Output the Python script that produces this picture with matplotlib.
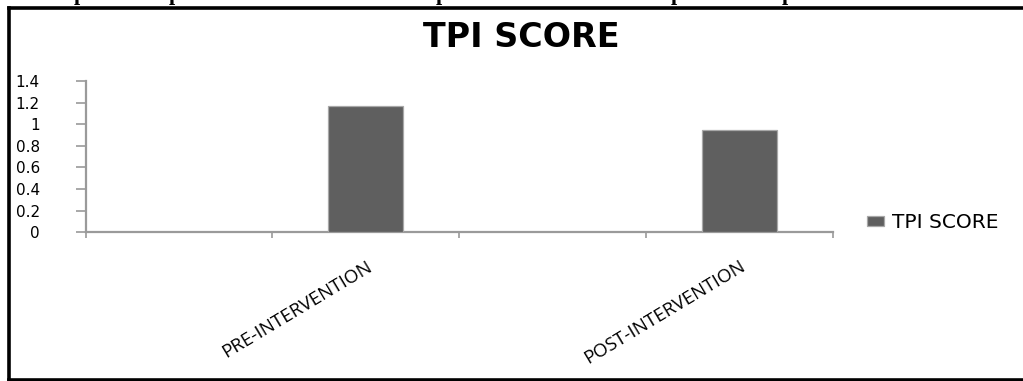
import matplotlib.pyplot as plt
import numpy as np
from matplotlib.lines import Line2D

plt.rcParams["font.family"] = "DejaVu Sans"

# Category slots on the x axis; empty slots carry no bar.
categories = ["", "PRE-INTERVENTION", "", "POST-INTERVENTION"]
tpi_score = [np.nan, 1.17, np.nan, 0.95]
series_name = "TPI SCORE"
y_ticks = [0, 0.2, 0.4, 0.6, 0.8, 1.0, 1.2, 1.4]

# glyphs of the caption line that sits above the frame (only the descenders show)
caption_marks_px = [78, 173, 440, 675, 786]

W, H = 1023, 381
AXIS_GREY = "#9a9a9a"
BAR_GREY = "#5f5f5f"


def main() -> None:
    fig = plt.figure(figsize=(W / 100, H / 100), dpi=100)
    fig.patch.set_facecolor("white")

    left, right = 85.7 / W, 832.7 / W
    bottom, top = 1 - 232.3 / H, 1 - 81.0 / H
    ax = fig.add_axes([left, bottom, right - left, top - bottom])

    x = np.arange(len(categories))
    bars = ax.bar(
        x,
        tpi_score,
        width=0.4,
        color=BAR_GREY,
        edgecolor="#a8a8a8",
        linewidth=0.9,
        label=series_name,
        zorder=3,
    )

    ax.set_xlim(-0.5, len(categories) - 0.5)
    ax.set_ylim(0, 1.4)

    # boundary ticks between slots, labels centred on the slots
    ax.set_xticks(np.arange(-0.5, len(categories)), [""] * (len(categories) + 1))
    ax.set_xticks(x, categories, minor=True)
    ax.tick_params(axis="x", which="major", length=4, width=1.2, color=AXIS_GREY, direction="out")
    ax.tick_params(axis="x", which="minor", length=0, pad=18)
    for lbl in ax.get_xticklabels(minor=True):
        lbl.set_rotation(31)
        lbl.set_ha("right")
        lbl.set_va("top")
        lbl.set_rotation_mode("anchor")
        lbl.set_family("Open Sans")
        lbl.set_fontsize(13.5)

    ax.set_yticks(y_ticks, [f"{v:g}" for v in y_ticks])
    ax.tick_params(axis="y", length=7, width=1.2, color=AXIS_GREY, direction="out",
                   labelsize=11, pad=26)

    for side in ("top", "right"):
        ax.spines[side].set_visible(False)
    for side in ("left", "bottom"):
        ax.spines[side].set_color(AXIS_GREY)
        ax.spines[side].set_linewidth(1.6)

    fig.text(521.5 / W, 1 - 47 / H, "TPI SCORE", ha="center", va="baseline",
             fontsize=24, fontweight="bold")

    fig.legend(
        handles=[bars],
        labels=[series_name],
        loc="center left",
        bbox_to_anchor=(857 / W, 1 - 222.5 / H),
        frameon=False,
        fontsize=14.5,
        handlelength=0.85,
        handleheight=0.4,
        handletextpad=0.4,
        borderpad=0,
    )

    # black frame around the chart (open on the right)
    lw = 2.6
    fig.add_artist(Line2D([8.5 / W, 8.5 / W], [1 - 8 / H, 1 - 379.5 / H], color="black", lw=lw))
    fig.add_artist(Line2D([8.5 / W, 1.0], [1 - 8 / H, 1 - 8 / H], color="black", lw=lw))
    fig.add_artist(Line2D([8.5 / W, 1.0], [1 - 379.5 / H, 1 - 379.5 / H], color="black", lw=lw))

    for px in caption_marks_px:
        fig.text((px - 4) / W, 1 + 0.5 / H, "p", ha="left", va="baseline",
                 family="Liberation Serif", fontweight="bold", fontsize=16)

    fig.savefig("out.png", dpi=100)
    plt.close(fig)


if __name__ == "__main__":
    main()
